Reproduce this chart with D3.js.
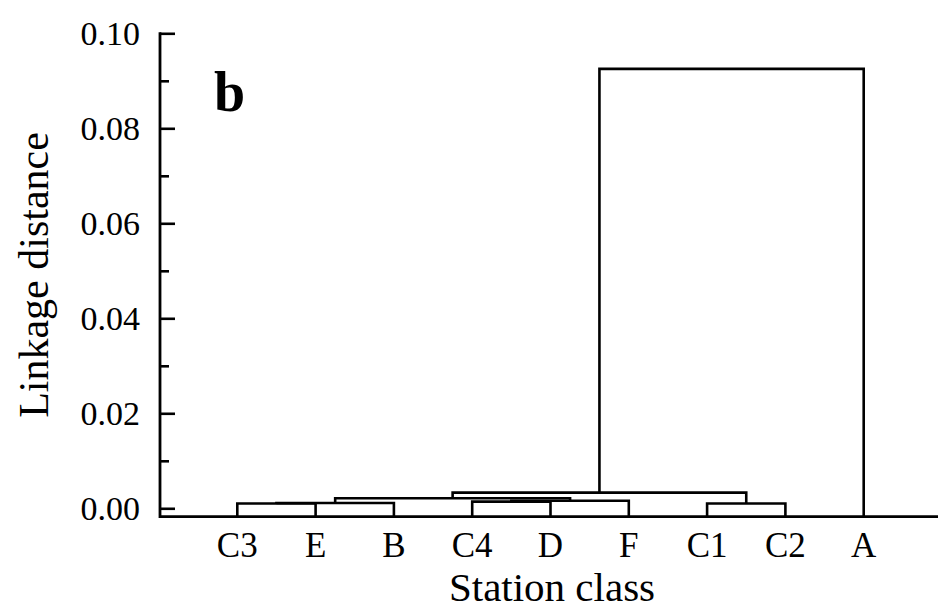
<!DOCTYPE html>
<html>
<head>
<meta charset="utf-8">
<script src="https://cdn.jsdelivr.net/npm/d3@7"></script>
<style>
  html, body { margin: 0; padding: 0; background: #fff; }
  svg { display: block; }
  text { font-family: "Liberation Serif", "Times New Roman", serif; fill: #000; }
</style>
</head>
<body>
<svg id="chart" width="938" height="612"></svg>
<script>
// Leaf order along the x axis
const leaves = ["C3", "E", "B", "C4", "D", "F", "C1", "C2", "A"];

// Merge steps: each joins two members (a leaf name or an earlier step "#n") at a linkage distance
const mergeLeft   = ["C3", "#0", "C4", "#2", "C1", "#1", "#5", "#6"];
const mergeRight  = ["E",  "B",  "D",  "F",  "C2", "#3", "#4", "A"];
const mergeHeight = [0.0010, 0.0011, 0.0014, 0.0016, 0.0010, 0.0021, 0.0033, 0.0925];

const yTicks = [0.00, 0.02, 0.04, 0.06, 0.08, 0.10];
const yMinorTicks = [0.01, 0.03, 0.05, 0.07, 0.09];

const svg = d3.select("#chart");

const x = d3.scalePoint().domain(leaves).range([237.3, 863.7]);
const y = d3.scaleLinear().domain([-0.00177, 0.10]).range([516.7, 33.3]);
const axisX0 = 160;

// Resolve a member to its x position and height
const nodes = [];
function member(id) {
  if (id.startsWith("#")) return nodes[+id.slice(1)];
  return { x: x(id), y: y.range()[0] };
}

const g = svg.append("g");
mergeHeight.forEach((h, i) => {
  const a = member(mergeLeft[i]);
  const b = member(mergeRight[i]);
  const yy = y(h);
  nodes.push({ x: (a.x + b.x) / 2, y: yy });
  g.append("path")
    .attr("d", `M${a.x},${a.y}V${yy}H${b.x}V${b.y}`)
    .attr("fill", "none")
    .attr("stroke", "#000")
    .attr("stroke-width", 2.6)
    .attr("stroke-linejoin", "miter");
});

// Y axis: ticks pointing inward, labels on the left
const yAxis = d3.axisLeft(y)
  .tickValues(yTicks)
  .tickFormat(d3.format(".2f"))
  .tickSizeInner(-15)
  .tickSizeOuter(0)
  .tickPadding(20);

const ya = svg.append("g")
  .attr("transform", `translate(${axisX0},0)`)
  .call(yAxis);
ya.select(".domain").remove();
ya.selectAll(".tick line").attr("stroke", "#000").attr("stroke-width", 2.6);
ya.selectAll(".tick text")
  .style("font-family", "'Liberation Serif', serif")
  .style("font-size", "34px")
  .attr("fill", "#000");

const yMinor = d3.axisLeft(y)
  .tickValues(yMinorTicks)
  .tickFormat("")
  .tickSizeInner(-9)
  .tickSizeOuter(0);
const ym = svg.append("g")
  .attr("transform", `translate(${axisX0},0)`)
  .call(yMinor);
ym.select(".domain").remove();
ym.selectAll(".tick line").attr("stroke", "#000").attr("stroke-width", 2.6);

// Axis lines
svg.append("path")
  .attr("d", `M${axisX0},${y(0.10) - 1}V${y.range()[0]}H938`)
  .attr("fill", "none")
  .attr("stroke", "#000")
  .attr("stroke-width", 2.8);

// Leaf labels
svg.append("g").selectAll("text")
  .data(leaves)
  .join("text")
  .attr("x", d => x(d))
  .attr("y", 557)
  .attr("text-anchor", "middle")
  .style("font-size", "35px")
  .text(d => d);

// Axis titles
svg.append("text")
  .attr("x", 552)
  .attr("y", 601)
  .attr("text-anchor", "middle")
  .style("font-size", "41px")
  .text("Station class");

svg.append("text")
  .attr("transform", "translate(48,275) rotate(-90)")
  .attr("text-anchor", "middle")
  .style("font-size", "42px")
  .text("Linkage distance");

// Panel letter
svg.append("text")
  .attr("x", 214)
  .attr("y", 111)
  .style("font-size", "56px")
  .style("font-weight", "bold")
  .text("b");
</script>
</body>
</html>
